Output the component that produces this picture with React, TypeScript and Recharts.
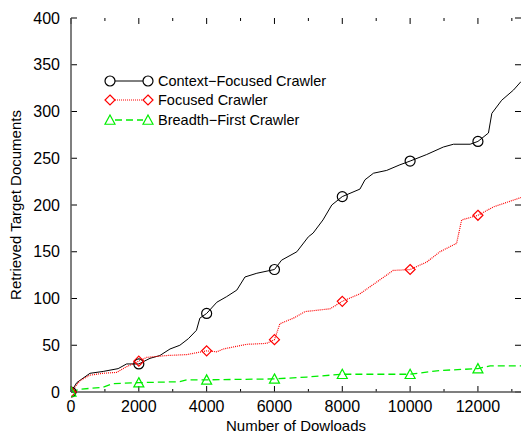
import { LineChart, Line, XAxis, YAxis, Legend, ReferenceLine } from 'recharts'

// values
const contextX = [0, 170, 560, 950, 1390, 1640, 2000, 2330, 2620, 2920, 3210, 3460, 3700, 3800, 4000, 4300, 4590, 4890, 5130, 5480, 6000, 6210, 6660, 7000, 7140, 7430, 7690, 8000, 8520, 8670, 8920, 9310, 9700, 10000, 10490, 10980, 11280, 11770, 12000, 12310, 12410, 12700, 13050, 13270]
const contextY = [0, 10, 20, 22, 25, 30, 30, 36, 39, 46, 50, 57, 66, 79, 84, 96, 102, 109, 123, 127, 131, 141, 150, 166, 170, 184, 200, 209, 217, 227, 234, 237, 243, 247, 254, 262, 265, 265, 268, 277, 298, 312, 323, 332]

const focusedX = [0, 260, 560, 940, 1350, 1640, 2000, 2230, 2820, 3410, 4000, 4300, 4490, 5180, 5770, 6000, 6160, 6560, 6900, 7640, 8000, 8520, 9110, 9500, 10000, 10490, 10880, 11370, 11520, 12000, 12460, 13270]
const focusedY = [0, 12, 18, 20, 21, 27, 33, 37, 39, 40, 44, 43, 46, 51, 52, 56, 73, 79, 86, 89, 97, 105, 120, 130, 131, 139, 150, 159, 184, 189, 198, 208]

const breadthX = [0, 260, 940, 1240, 2000, 3210, 3410, 4000, 6000, 6950, 8000, 10000, 10880, 12000, 12360, 13270]
const breadthY = [0, 3, 5, 9, 10, 11, 13, 13, 14, 16, 19, 19, 23, 25, 28, 28]

const xTicks = [0, 1000, 2000, 3000, 4000, 5000, 6000, 7000, 8000, 9000, 10000, 11000, 12000, 13000]
const yTicks = [0, 50, 100, 150, 200, 250, 300, 350, 400]

const X_MAX = 13270
const Y_MAX = 400
const FONT = '"Liberation Sans", Arial, Helvetica, sans-serif'

const toPoints = (xs: number[], ys: number[]) => xs.map((x, i) => ({ x, y: ys[i] }))

const series = [
  { name: 'Context\u2212Focused Crawler', data: toPoints(contextX, contextY), color: '#000000', dash: undefined, width: 1, shape: 'circle' },
  { name: 'Focused Crawler', data: toPoints(focusedX, focusedY), color: '#ff0000', dash: '1 1', width: 1.2, shape: 'diamond' },
  { name: 'Breadth\u2212First Crawler', data: toPoints(breadthX, breadthY), color: '#00ee00', dash: '7 4', width: 1.3, shape: 'triangle' },
]

function Marker({ shape, cx, cy, color }: any) {
  const r = 5
  const common = { fill: 'none', stroke: color, strokeWidth: 1.2 }
  if (shape === 'circle') return <circle cx={cx} cy={cy} r={r} {...common} />
  if (shape === 'diamond')
    return <polygon points={`${cx},${cy - r} ${cx + r},${cy} ${cx},${cy + r} ${cx - r},${cy}`} {...common} />
  return <polygon points={`${cx},${cy - r} ${cx + r},${cy + r * 0.85} ${cx - r},${cy + r * 0.85}`} {...common} />
}

const XTick = ({ x, y, payload }: any) =>
  payload.value % 2000 === 0 ? (
    <text x={x} y={y + 14} textAnchor="middle" dominantBaseline="central" fontSize={16} fill="#000" fontFamily={FONT}>
      {payload.value}
    </text>
  ) : (
    <g />
  )

const YTick = ({ x, y, payload }: any) => (
  <text x={x - 11} y={y} textAnchor="end" dominantBaseline="central" fontSize={16} fill="#000" fontFamily={FONT}>
    {payload.value}
  </text>
)

const LegendBox = () => (
  <div style={{ fontFamily: FONT, fontSize: 14.5, color: '#000' }}>
    {series.map((s) => (
      <div key={s.name} style={{ display: 'flex', alignItems: 'center', height: 19.5 }}>
        <svg width={52} height={14} style={{ display: 'block' }}>
          <line x1={12} x2={40} y1={7} y2={7} stroke={s.color} strokeWidth={s.width} strokeDasharray={s.dash} />
          <Marker shape={s.shape} cx={7} cy={7} color={s.color} />
          <Marker shape={s.shape} cx={45} cy={7} color={s.color} />
        </svg>
        <span style={{ marginLeft: 3, whiteSpace: 'nowrap' }}>{s.name}</span>
      </div>
    ))}
  </div>
)

// inward tick marks on all four sides, in data units (~6px major, ~3px minor)
const xTickLen = (v: number) => (v % 2000 === 0 ? 6.4 : 3.2)
const yTickLen = 177

export default function App() {
  return (
    <div style={{ position: 'absolute', left: 0, top: 0, width: 521, height: 435, background: '#fff' }}>
      <LineChart width={521} height={435} margin={{ top: 18, right: 0, bottom: 0, left: 0 }} style={{ fontFamily: FONT }}>
        <XAxis
          type="number" dataKey="x" domain={[0, X_MAX]} ticks={xTicks} interval={0}
          height={43} tick={<XTick />} tickSize={0} tickMargin={0} tickLine={false}
          axisLine={{ stroke: '#555', strokeWidth: 1.5 }} allowDataOverflow
          label={{ value: 'Number of Dowloads', position: 'insideBottom', offset: 4, fontSize: 15, fill: '#000' }}
        />
        <YAxis
          type="number" domain={[0, Y_MAX]} ticks={yTicks} width={71} interval={0}
          tick={<YTick />} tickSize={0} tickMargin={0} tickLine={false}
          axisLine={{ stroke: '#555', strokeWidth: 1.5 }}
          label={{
            content: () => (
              <text x={15} y={205} transform="rotate(-90 15 205)" textAnchor="middle" dominantBaseline="central" fontSize={15} fill="#000" fontFamily={FONT}>
                Retrieved Target Documents
              </text>
            ),
          }}
        />
        {xTicks.map((v) => (
          <ReferenceLine key={`b${v}`} segment={[{ x: v, y: 0 }, { x: v, y: xTickLen(v) }]} stroke="#000" strokeWidth={1} ifOverflow="visible" />
        ))}
        {xTicks.map((v) => (
          <ReferenceLine key={`t${v}`} segment={[{ x: v, y: Y_MAX }, { x: v, y: Y_MAX - xTickLen(v) }]} stroke="#000" strokeWidth={1} ifOverflow="visible" />
        ))}
        {yTicks.map((v) => (
          <ReferenceLine key={`l${v}`} segment={[{ x: 0, y: v }, { x: yTickLen, y: v }]} stroke="#000" strokeWidth={1} ifOverflow="visible" />
        ))}
        {yTicks.map((v) => (
          <ReferenceLine key={`r${v}`} segment={[{ x: X_MAX, y: v }, { x: X_MAX - yTickLen, y: v }]} stroke="#000" strokeWidth={1} ifOverflow="visible" />
        ))}
        <Legend
          layout="vertical" align="center" verticalAlign="middle"
          content={<LegendBox />}
          wrapperStyle={{ left: 103, top: 71, width: 280 }}
        />
        {series.map((s) => (
          <Line
            key={s.name}
            data={s.data} dataKey="y" name={s.name}
            type="linear" stroke={s.color} strokeWidth={s.width} strokeDasharray={s.dash}
            isAnimationActive={false}
            dot={(p: any) =>
              p.payload.x % 2000 === 0 ? (
                <Marker key={p.index} shape={s.shape} cx={p.cx} cy={p.cy} color={s.color} />
              ) : (
                <g key={p.index} />
              )
            }
            activeDot={false}
          />
        ))}
      </LineChart>
    </div>
  )
}
